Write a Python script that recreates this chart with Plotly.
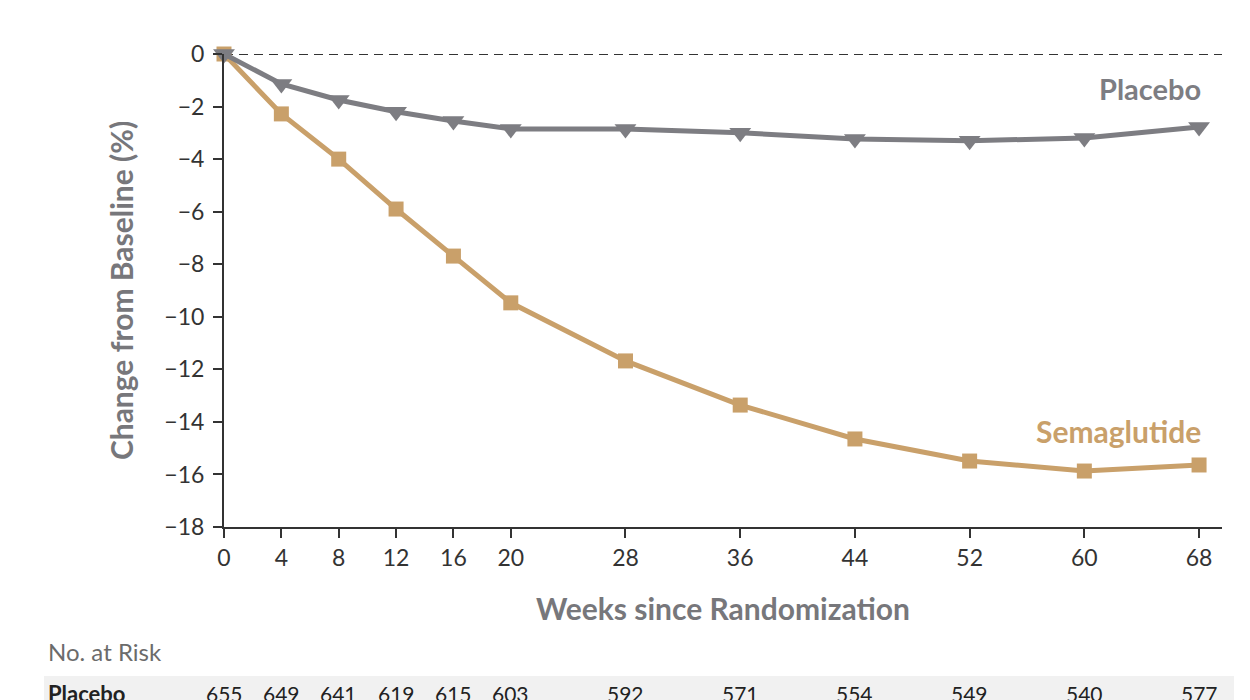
import plotly.graph_objects as go

weeks = [0, 4, 8, 12, 16, 20, 28, 36, 44, 52, 60, 68]
placebo = [0, -1.14, -1.75, -2.2, -2.55, -2.85, -2.85, -3.0, -3.23, -3.3, -3.2, -2.78]
semaglutide = [0, -2.28, -4.0, -5.9, -7.69, -9.47, -11.68, -13.36, -14.65, -15.49, -15.87, -15.64]
placebo_risk = [655, 649, 641, 619, 615, 603, 592, 571, 554, 549, 540, 577]
yticks = [0, -2, -4, -6, -8, -10, -12, -14, -16, -18]

GREY = "#7d7d82"
TAN = "#c9a06a"
FONT = "Lato"

OFF = 8  # page body margin
W, H = 1250, 700
L, R, T, B = 224 - OFF, 36, 54 - OFF, 181
pw = W - L - R
ph = H - T - B

def px(xpix):
    return (xpix - OFF - L) / pw

def py(ypix):
    return (H - B - (ypix - OFF)) / ph

fig = go.Figure()

fig.add_trace(go.Scatter(
    x=weeks, y=semaglutide, mode="lines+markers",
    line=dict(color=TAN, width=5),
    marker=dict(symbol="square", size=15, color=TAN),
    cliponaxis=False, showlegend=False, name="Semaglutide"))

fig.add_trace(go.Scatter(
    x=weeks, y=placebo, mode="lines+markers",
    line=dict(color=GREY, width=5),
    marker=dict(symbol="triangle-down", size=19, color=GREY),
    cliponaxis=False, showlegend=False, name="Placebo"))

# dashed zero line
fig.add_shape(type="line", xref="x", yref="y", x0=0, x1=70.0, y0=0, y1=0,
              line=dict(color="#333333", width=2, dash="9px,6px"), layer="below")

fig.update_xaxes(range=[0, 69.6], tickvals=weeks, ticktext=[str(w) for w in weeks],
                 showgrid=False, zeroline=False, showline=True, linecolor="#333333",
                 linewidth=2, ticks="outside", ticklen=9, tickwidth=2, tickcolor="#333333",
                 tickfont=dict(family=FONT, size=23, color="#333333"),
                 title=dict(text="<b>Weeks since Randomization</b>",
                            font=dict(family=FONT, size=30, color="#77777b"), standoff=29))
fig.update_yaxes(range=[-18, 0], tickvals=yticks, ticktext=[str(v).replace("-", "−") for v in yticks],
                 showgrid=False, zeroline=False, showline=True, linecolor="#333333",
                 linewidth=2, ticks="outside", ticklen=9, tickwidth=2, tickcolor="#333333",
                 tickfont=dict(family=FONT, size=23, color="#333333"), ticklabelstandoff=4,
                 title=dict(text="<b>Change from Baseline (%)</b>",
                            font=dict(family=FONT, size=30, color="#77777b"), standoff=22))

ann = []
ann.append(dict(text="<b>Placebo</b>", x=px(1203), y=py(88), xref="paper", yref="paper",
                xanchor="right", yanchor="middle", showarrow=False,
                font=dict(family=FONT, size=29, color=GREY)))
ann.append(dict(text="<b>Semaglutide</b>", x=px(1203), y=py(431), xref="paper", yref="paper",
                xanchor="right", yanchor="middle", showarrow=False,
                font=dict(family=FONT, size=30, color=TAN)))
ann.append(dict(text="No. at Risk", x=px(46), y=py(651), xref="paper", yref="paper",
                xanchor="left", yanchor="middle", showarrow=False,
                font=dict(family=FONT, size=24, color="#6b6b6b")))
ann.append(dict(text="<b>Placebo</b>", x=px(46), y=py(693), xref="paper", yref="paper",
                xanchor="left", yanchor="middle", showarrow=False,
                font=dict(family=FONT, size=22, color="#222222")))
for w, n in zip(weeks, placebo_risk):
    ann.append(dict(text=str(n), x=w, y=py(693), xref="x", yref="paper",
                    xanchor="center", yanchor="middle", showarrow=False,
                    font=dict(family=FONT, size=21, color="#222222")))

fig.add_shape(type="rect", xref="paper", yref="paper", x0=px(44), x1=px(1234),
              y0=py(712), y1=py(676), fillcolor="#f1f1f1", line=dict(width=0), layer="below")

fig.update_layout(width=W, height=H, margin=dict(l=L, r=R, t=T, b=B),
                  paper_bgcolor="white", plot_bgcolor="white", annotations=ann,
                  font=dict(family=FONT))

fig.write_html("out.html")
